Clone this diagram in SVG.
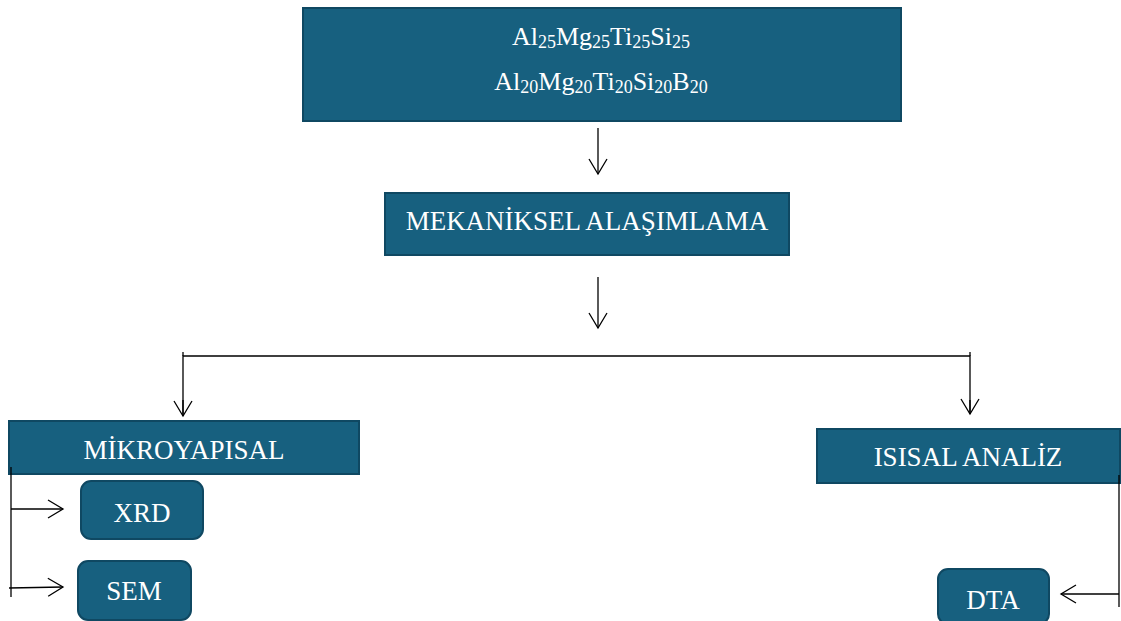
<svg xmlns="http://www.w3.org/2000/svg" width="1121" height="621" viewBox="0 0 1121 621">
<style>
.box{fill:#17607f;stroke:#0f4862;stroke-width:2}
.t{font-family:"Liberation Serif",serif;fill:#ffffff;text-anchor:middle;font-size:27px}
.c{fill:none;stroke:#000;stroke-width:1.3}
.s{font-size:18px}
</style>
<defs>
<marker id="ah" markerWidth="18" markerHeight="20" refX="16" refY="10" orient="auto" markerUnits="userSpaceOnUse">
<path d="M1,1 L16,10 L1,19" fill="none" stroke="#000" stroke-width="1.3"/>
</marker>
</defs>
<rect width="1121" height="621" fill="#fff"/>
<g id="alloys">
<rect class="box" x="303" y="8" width="598" height="113"/>
<text class="t" x="601" y="45" style="font-size:26px">Al<tspan class="s" dy="3">25</tspan><tspan dy="-3">Mg</tspan><tspan class="s" dy="3">25</tspan><tspan dy="-3">Ti</tspan><tspan class="s" dy="3">25</tspan><tspan dy="-3">Si</tspan><tspan class="s" dy="3">25</tspan></text>
<text class="t" x="601" y="90" style="font-size:26px">Al<tspan class="s" dy="3">20</tspan><tspan dy="-3">Mg</tspan><tspan class="s" dy="3">20</tspan><tspan dy="-3">Ti</tspan><tspan class="s" dy="3">20</tspan><tspan dy="-3">Si</tspan><tspan class="s" dy="3">20</tspan><tspan dy="-3">B</tspan><tspan class="s" dy="3">20</tspan></text>
</g>
<g id="mekaniksel">
<rect class="box" x="385" y="193" width="404" height="62"/>
<text class="t" x="587" y="230">MEKANİKSEL ALAŞIMLAMA</text>
</g>
<g id="mikroyapisal">
<rect class="box" x="9" y="421" width="350" height="53"/>
<text class="t" x="184" y="459">MİKROYAPISAL</text>
</g>
<g id="xrd">
<rect class="box" x="81" y="481" width="122" height="58" rx="10"/>
<text class="t" x="142" y="522">XRD</text>
</g>
<g id="sem">
<rect class="box" x="78" y="561" width="113" height="59" rx="10"/>
<text class="t" x="134" y="600">SEM</text>
</g>
<g id="isisal">
<rect class="box" x="817" y="429" width="303" height="54"/>
<text class="t" x="968" y="466">ISISAL ANALİZ</text>
</g>
<g id="dta">
<rect class="box" x="938" y="569" width="111" height="55" rx="10"/>
<text class="t" x="993" y="609">DTA</text>
</g>
<g id="connectors">
<line class="c" x1="598" y1="128" x2="598" y2="174" marker-end="url(#ah)"/>
<line class="c" x1="598" y1="277" x2="598" y2="328" marker-end="url(#ah)"/>
<polyline class="c" points="183,416 183,356 970,356 970,414"/>
<line class="c" x1="183" y1="400" x2="183" y2="416" marker-end="url(#ah)"/>
<line class="c" x1="970" y1="400" x2="970" y2="414" marker-end="url(#ah)"/>
<line class="c" x1="183" y1="352" x2="183" y2="356"/>
<line class="c" x1="970" y1="352" x2="970" y2="356"/>
<line class="c" x1="11" y1="467" x2="11" y2="597"/>
<line class="c" x1="11" y1="509" x2="63" y2="509" marker-end="url(#ah)"/>
<line class="c" x1="9" y1="588" x2="63" y2="587" marker-end="url(#ah)"/>
<line class="c" x1="1119" y1="475" x2="1119" y2="607"/>
<line class="c" x1="1119" y1="594" x2="1061" y2="594" marker-end="url(#ah)"/>
</g>
</svg>
